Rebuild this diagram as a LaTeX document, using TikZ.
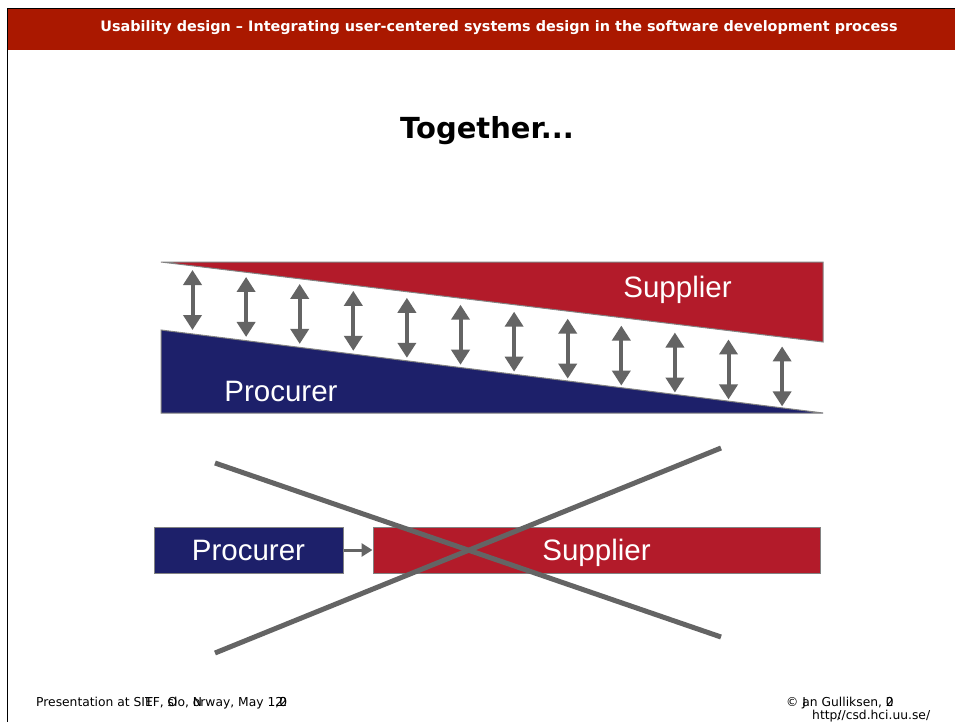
\documentclass[tikz,border=0pt]{standalone}
\usepackage{fontspec}
\setmainfont{Liberation Sans}
\newfontfamily\verd{DejaVu Sans}
\usetikzlibrary{arrows.meta}
\definecolor{hdr}{RGB}{170,24,0}
\definecolor{supred}{RGB}{179,27,42}
\definecolor{problue}{RGB}{29,32,106}
\definecolor{arrgray}{RGB}{100,100,100}
\definecolor{edgegray}{RGB}{130,130,130}
\tikzset{
  shapetext/.style={text=white, font=\fontsize{29.5}{32}\selectfont, inner sep=0pt, anchor=base},
  boxnode/.style={draw=edgegray, line width=1pt, text=white, font=\fontsize{29.5}{32}\selectfont, inner sep=0pt, text height=21pt, text depth=0pt},
  dblarrow/.style={draw=arrgray, line width=4pt, {Triangle[width=18pt,length=15pt]}-{Triangle[width=18pt,length=15pt]}},
  conn/.style={draw=arrgray, line width=3pt, -{Triangle[width=13pt,length=11pt]}},
  crossline/.style={draw=arrgray, line width=5pt},
  foot/.style={font=\verd\fontsize{12.3}{14}\selectfont, inner sep=0pt, anchor=west}
}
\begin{document}
\begin{tikzpicture}[x=1pt,y=-1pt]
\useasboundingbox (0,0) rectangle (955,722);
\fill[white] (0,0) rectangle (955,722);
% header
\fill[hdr] (7,8.5) rectangle (955,50.5);
\draw[black, line width=1pt] (7.5,8.5) -- (955,8.5);
\draw[black, line width=1pt] (7.5,8.5) -- (7.5,722);
\node[text=white, font=\verd\bfseries\fontsize{14.4}{16}\selectfont, inner sep=0pt] (header) at (499,28) {Usability design – Integrating user-centered systems design in the software development process};
% title
\node[font=\verd\bfseries\fontsize{29}{32}\selectfont, inner sep=0pt] (title) at (487,131) {Together...};
% top wedges
\filldraw[fill=supred, draw=edgegray, line width=1pt] (161,262) -- (823,262) -- (823,342) -- cycle;
\filldraw[fill=problue, draw=edgegray, line width=1pt] (161,330) -- (823,413) -- (161,413) -- cycle;
\node[shapetext] (suptop) at (677.5,297) {Supplier};
\node[shapetext] (protop) at (281,401) {Procurer};
% double arrows
\foreach \i in {0,...,11}{
  \pgfmathsetmacro{\ax}{192.5+\i*53.6}
  \pgfmathsetmacro{\ay}{270+(\ax-192.5)*0.1296}
  \coordinate (at\i) at (\ax,\ay);
  \coordinate (ab\i) at (\ax,\ay+60);
  \draw[dblarrow] (at\i) -- (ab\i);
}
% bottom boxes
\node[boxnode, fill=problue, minimum width=189pt, minimum height=46pt] (probox) at (248.5,550) {Procurer};
\node[boxnode, fill=supred, minimum width=447pt, minimum height=46pt] (supbox) at (596.5,550) {Supplier};
\draw[conn] (probox) -- (supbox);
% cross
\coordinate (c1a) at (215,463);
\coordinate (c1b) at (721,637);
\coordinate (c2a) at (215,653);
\coordinate (c2b) at (721,448);
\draw[crossline] (c1a) -- (c1b);
\draw[crossline] (c2a) -- (c2b);
% footer
\node[foot] (footl) at (36,703) {Presentation at SI\rlap{T}EF, \rlap{O}slo, \rlap{N}orway, May 1\rlap{2},\rlap{2}0};
\node[foot] (footr) at (786,703) {© \rlap{J}an Gulliksen, \rlap{2}0};
\node[foot] (footu) at (812,716) {http\rlap{:}//csd.hci.uu.se/};
\end{tikzpicture}
\end{document}
